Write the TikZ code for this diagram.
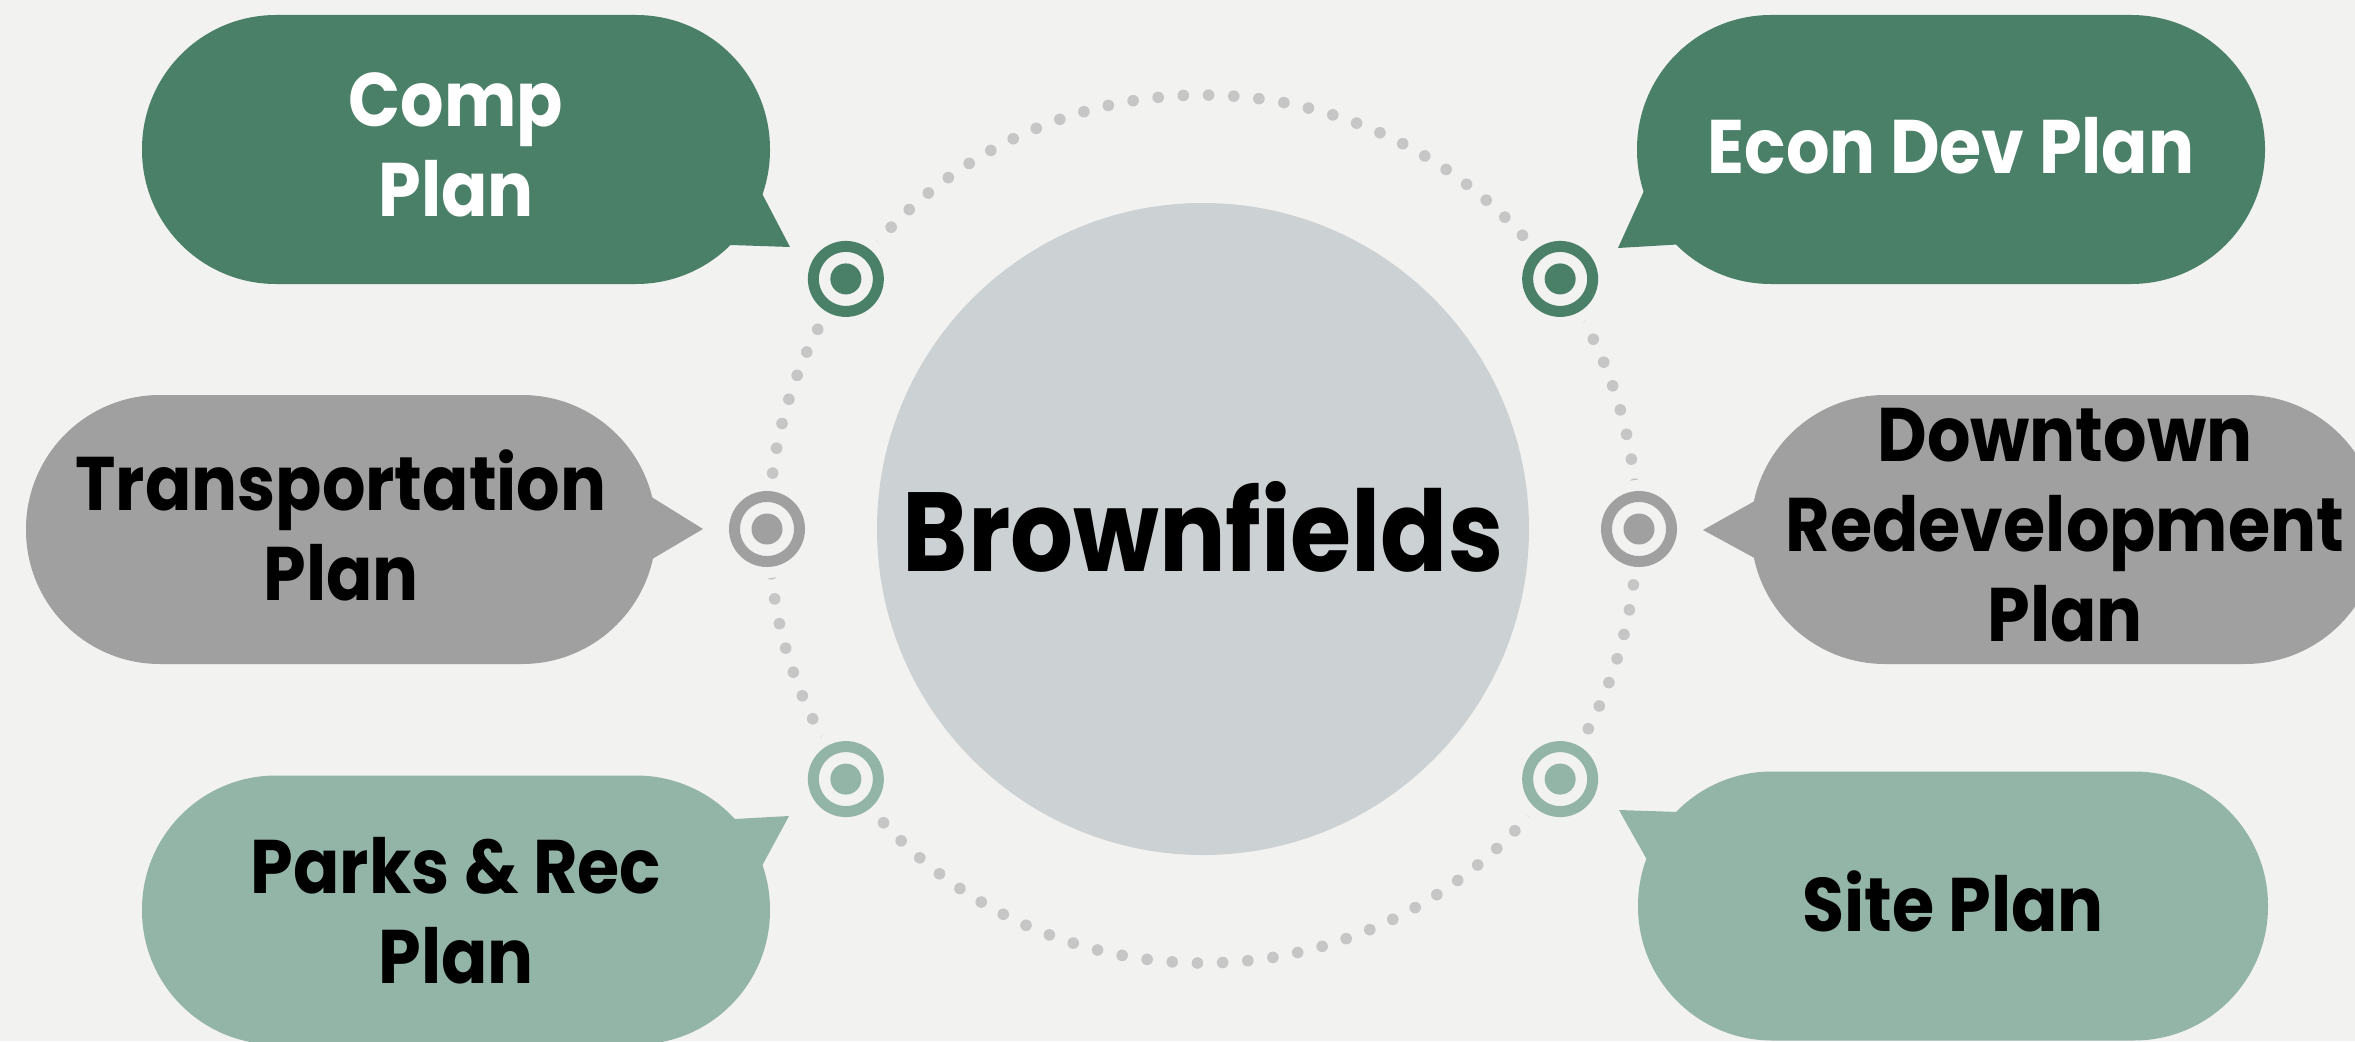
\documentclass[tikz,border=0pt]{standalone}
\usepackage{fontspec}
\usetikzlibrary{calc}
\setmainfont{Poppins}
\newfontfamily\bubblefont[FakeStretch=0.9]{Poppins}
\newfontfamily\hubfont[FakeStretch=0.88]{Poppins}
\definecolor{bg}{HTML}{F2F2F0}
\definecolor{dkgreen}{HTML}{4A8068}
\definecolor{ltgreen}{HTML}{93B5A8}
\definecolor{midgray}{HTML}{A0A0A0}
\definecolor{hubgray}{HTML}{CCD1D4}
\definecolor{dotgray}{HTML}{C6C6C6}
\begin{document}
\begin{tikzpicture}[
    bubble/.style={rectangle, rounded corners=1.34cm, minimum width=6.28cm, minimum height=2.69cm,
      inner sep=0, text depth=0.09cm, align=center, font=\bubblefont\bfseries\fontsize{21.6}{25.6}\selectfont},
    bullseye/.style={circle, minimum size=0.65cm, inner sep=0, fill=bg, draw=#1, line width=0.11cm,
      preaction={draw=bg, line width=0.33cm},
      path picture={\fill[#1] (path picture bounding box.center) circle (0.155);}}]
    \fill[bg] (0,0) rectangle (23.55,10.41);
    \useasboundingbox (0,0) rectangle (23.55,10.41);
    \coordinate (ctr) at (12.03,5.12);
    \foreach \i in {0,...,107}
      \fill[dotgray] (ctr) ++(\i*3.33333+2.6:4.34) circle (0.058);
    \node[circle, fill=hubgray, minimum size=6.52cm, inner sep=0, text depth=0.06cm,
      font=\hubfont\bfseries\fontsize{32}{36}\selectfont] (hub) at (ctr) {Brownfields};
    \node[bullseye=dkgreen] (mcomp) at ($(ctr)+(145:4.36)$) {};
    \node[bullseye=dkgreen] (mecon) at ($(ctr)+(35:4.36)$) {};
    \node[bullseye=midgray] (mtrans) at ($(ctr)+(180:4.36)$) {};
    \node[bullseye=midgray] (mdown) at ($(ctr)+(0:4.36)$) {};
    \node[bullseye=ltgreen] (mparks) at ($(ctr)+(215:4.36)$) {};
    \node[bullseye=ltgreen] (msite) at ($(ctr)+(325:4.36)$) {};
    \node[bubble, fill=dkgreen, text=white] (comp) at (4.56,8.915) {Comp\\Plan};
    \fill[dkgreen] (7.56,8.59) -- (7.90,7.94) -- (7.16,7.965) -- cycle;
    \node[bubble, fill=dkgreen, text=white] (econ) at (19.51,8.915) {Econ Dev Plan};
    \fill[dkgreen] (16.48,8.59) -- (16.18,7.93) -- (16.855,7.97) -- cycle;
    \node[bubble, fill=midgray, minimum width=6.30cm] (trans) at (3.41,5.115) {Transportation\\Plan};
    \fill[midgray] (6.37,5.53) -- (7.03,5.12) -- (6.37,4.73) -- cycle;
    \node[bubble, fill=midgray] (down) at (20.65,5.115) {Downtown\\Redevelopment\\Plan};
    \fill[midgray] (17.655,5.46) -- (17.03,5.11) -- (17.655,4.77) -- cycle;
    \node[bubble, fill=ltgreen, text depth=0cm] (parks) at (4.56,1.31) {Parks \& Rec\\Plan};
    \fill[ltgreen] (7.565,1.65) -- (7.89,2.25) -- (7.165,2.21) -- cycle;
    \node[bubble, fill=ltgreen, minimum width=6.30cm] (site) at (19.53,1.35) {Site Plan};
    \fill[ltgreen] (16.19,2.31) -- (16.93,2.285) -- (16.55,1.67) -- cycle;
\end{tikzpicture}
\end{document}
